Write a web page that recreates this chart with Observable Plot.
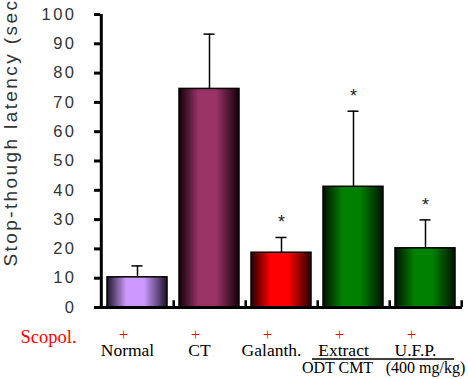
<!DOCTYPE html>
<html><head><meta charset="utf-8">
<script src="https://cdn.jsdelivr.net/npm/d3@7"></script>
<script src="https://cdn.jsdelivr.net/npm/@observablehq/plot@0.6"></script>
<style>
body{margin:0;background:#fff}
#chart svg{overflow:hidden}
#chart g[aria-label="y-axis tick label"] text{letter-spacing:2.5px}
#chart g[aria-description="ylabel"] text{letter-spacing:2.4px}
</style></head><body><div id="chart"></div>
<script>
const categories = ["Normal", "CT", "Galanth.", "Extract", "U.F.P."];
const means = [10.3, 74.6, 18.7, 41.2, 20.2];
const errors = [3.9, 18.7, 5.2, 25.8, 9.7];
const significant = [false, false, true, true, true];
const centerColors = ["#cc99ff", "#993366", "#ff0000", "#008000", "#008000"];
const edgeColors = ["#1c1628", "#12000a", "#260000", "#001200", "#001200"];
const yTicks = [0, 10, 20, 30, 40, 50, 60, 70, 80, 90, 100];
const yLabel = "Stop-though latency (sec)";
const treatmentLabel = "Scopol.";
const treatmentSigns = ["+", "+", "+", "+", "+"];
const groupCategories = ["Extract", "U.F.P."];
const groupSubLabels = ["ODT CMT", "(400 mg/kg)"];

const W = 468, H = 379, ML = 100, MR = 6, MT = 14, MB = 72;
const step = (W - ML - MR) / categories.length;

const data = categories.map((c, i) => ({
  cat: c, mean: means[i], err: errors[i], sig: significant[i],
  grad: `url(#bargrad${i})`
}));
const sigData = data.filter(d => d.sig);
const subData = groupCategories.map((c, i) => ({cat: c, label: groupSubLabels[i]}));

const serif = "'Liberation Serif', 'Times New Roman', serif";
const sans = "'Liberation Sans', Arial, sans-serif";

const chart = Plot.plot({
  width: W, height: H,
  marginLeft: ML, marginRight: MR, marginTop: MT, marginBottom: MB,
  style: {fontFamily: sans, color: "black", background: "white", overflow: "hidden"},
  x: {domain: categories, paddingInner: 0.16, paddingOuter: 0.08, axis: null},
  y: {domain: [0, 100], axis: null},
  color: {type: "identity"},
  marks: [
    Plot.barY(data, {x: "cat", y: "mean", fill: "grad", stroke: "black", strokeWidth: 1.5}),
    Plot.ruleX(data, {x: "cat", y1: "mean", y2: d => d.mean + d.err, stroke: "black", strokeWidth: 1.5}),
    Plot.tickY(data, {x: "cat", y: d => d.mean + d.err, stroke: "black", strokeWidth: 1.5, insetLeft: 24.5, insetRight: 24.5}),
    Plot.text(sigData, {x: "cat", y: d => d.mean + d.err, text: () => "*", dy: -15, fontSize: 18, fill: "#222"}),
    Plot.axisY(yTicks, {tickSize: 6, tickPadding: 18, strokeWidth: 3, fontSize: 16.5, fill: "#333", label: null}),
    Plot.ruleX([categories[0]], {x: d => d, y1: 0, y2: 100, dx: -step / 2, strokeWidth: 3, stroke: "black"}),
    Plot.ruleY([0], {strokeWidth: 3, stroke: "black", insetLeft: -6}),
    Plot.ruleX(categories, {x: d => d, y1: 0, y2: 2.3, dx: step / 2, strokeWidth: 2.5, stroke: "black"}),
    Plot.text([yLabel], {frameAnchor: "bottom-left", rotate: -90, textAnchor: "start", dx: -84, dy: -41, fontSize: 19, fill: "#333", ariaDescription: "ylabel"}),
    Plot.text([treatmentLabel], {frameAnchor: "bottom-left", textAnchor: "start", lineAnchor: "bottom", dx: -80, dy: 35, fontSize: 18.5, fontFamily: serif, fill: "#ff0000"}),
    Plot.text(categories, {x: d => d, text: (d, i) => treatmentSigns[i], frameAnchor: "bottom", lineAnchor: "bottom", dx: -14, dy: 32, fontSize: 16, fontFamily: serif, fill: "#ff0000"}),
    Plot.text(categories, {x: d => d, text: d => d, frameAnchor: "bottom", lineAnchor: "bottom", dx: -10, dy: 48.5, fontSize: 17.5, fontFamily: serif, fill: "black"}),
    Plot.ruleY([0], {dy: 51.5, strokeWidth: 1.3, stroke: "black", insetLeft: 212, insetRight: 8}),
    Plot.text(subData.slice(0, 1), {x: "cat", text: "label", frameAnchor: "bottom", lineAnchor: "bottom", dx: -16, dy: 65, fontSize: 16, fontFamily: serif, fill: "black"}),
    Plot.text(subData.slice(1), {x: "cat", text: "label", frameAnchor: "bottom", lineAnchor: "bottom", dx: 0, dy: 65, fontSize: 16, fontFamily: serif, fill: "black"})
  ]
});

const svgNS = "http://www.w3.org/2000/svg";
const defs = document.createElementNS(svgNS, "defs");
data.forEach((d, i) => {
  const g = document.createElementNS(svgNS, "linearGradient");
  g.setAttribute("id", `bargrad${i}`);
  g.setAttribute("x1", "0"); g.setAttribute("x2", "1");
  g.setAttribute("y1", "0"); g.setAttribute("y2", "0");
  [[0, edgeColors[i]], [0.32, centerColors[i]], [0.62, centerColors[i]], [1, edgeColors[i]]].forEach(([o, c]) => {
    const s = document.createElementNS(svgNS, "stop");
    s.setAttribute("offset", o); s.setAttribute("stop-color", c);
    g.appendChild(s);
  });
  defs.appendChild(g);
});
chart.insertBefore(defs, chart.firstChild);
document.getElementById("chart").appendChild(chart);
</script></body></html>
